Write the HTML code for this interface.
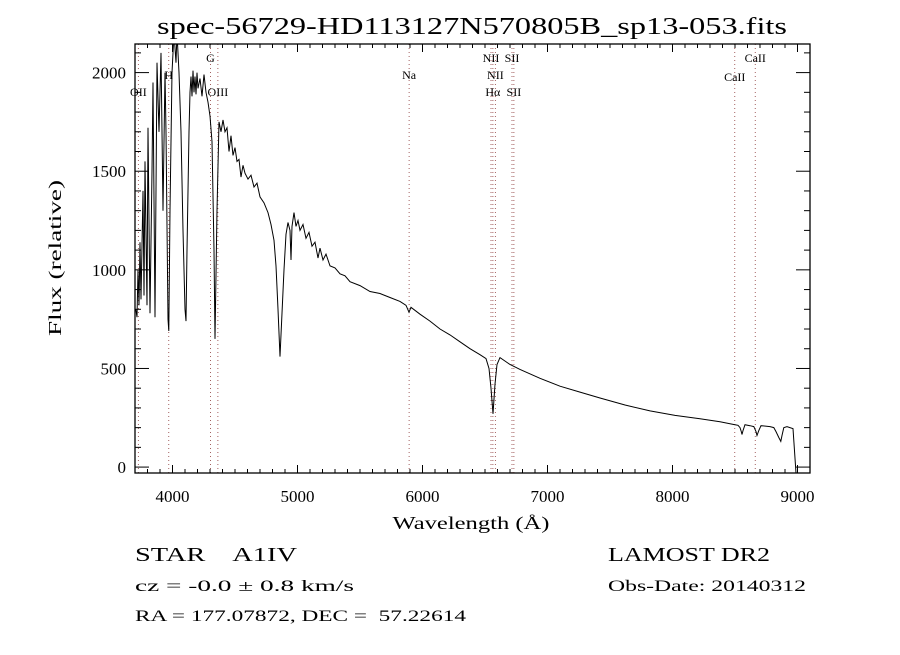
<!DOCTYPE html>
<html><head><meta charset="utf-8"><style>
html,body{margin:0;padding:0;background:#fff;}
svg text{font-family:"Liberation Serif",serif;fill:#000;white-space:pre;}
</style></head><body>
<svg id="chart" width="900" height="650" xmlns="http://www.w3.org/2000/svg" xml:space="preserve">
<defs><clipPath id="plotclip"><rect x="135" y="44" width="675" height="429"/></clipPath></defs>
<rect x="0" y="0" width="900" height="650" fill="#fff"/>
<text x="472" y="34" font-size="24" text-anchor="middle" textLength="630" lengthAdjust="spacingAndGlyphs">spec-56729-HD113127N570805B_sp13-053.fits</text>
<g id="lines"></g>
<g id="axes"></g>
<g clip-path="url(#plotclip)"><path id="spec" fill="none" stroke="#000" stroke-width="1"/></g>
<text x="471" y="529" font-size="18" text-anchor="middle" textLength="157" lengthAdjust="spacingAndGlyphs">Wavelength (Å)</text>
<text x="0" y="0" font-size="18" text-anchor="middle" transform="translate(61,258) rotate(-90)" textLength="156" lengthAdjust="spacingAndGlyphs">Flux (relative)</text>
<text x="135" y="561" font-size="20" textLength="162" lengthAdjust="spacingAndGlyphs">STAR    A1IV</text>
<text x="135" y="591" font-size="16" textLength="219" lengthAdjust="spacingAndGlyphs">cz = -0.0 ± 0.8 km/s</text>
<text x="135" y="621" font-size="16" textLength="331" lengthAdjust="spacingAndGlyphs">RA = 177.07872, DEC =  57.22614</text>
<text x="608" y="561" font-size="20" textLength="162" lengthAdjust="spacingAndGlyphs">LAMOST DR2</text>
<text x="608" y="591" font-size="16" textLength="198" lengthAdjust="spacingAndGlyphs">Obs-Date: 20140312</text>
</svg>
<script>
const wavelengths = [3706,3716,3724,3732,3740,3748,3764,3772,3780,3796,3804,3820,3836,3844,3860,3876,3892,3908,3924,3940,3948,3964,3970,3980,3996,4012,4028,4036,4052,4068,4084,4100,4108,4116,4132,4140,4148,4156,4164,4172,4180,4188,4196,4204,4220,4236,4252,4268,4284,4300,4316,4332,4340,4356,4372,4388,4404,4420,4436,4452,4468,4484,4500,4516,4532,4548,4564,4580,4604,4628,4652,4676,4700,4732,4764,4788,4812,4828,4844,4860,4876,4892,4908,4924,4940,4948,4956,4972,4988,5004,5020,5044,5068,5092,5116,5140,5164,5180,5204,5228,5260,5300,5340,5380,5420,5500,5580,5660,5740,5820,5868,5892,5908,5980,6060,6140,6220,6300,6380,6460,6508,6532,6548,6564,6580,6596,6620,6700,6780,6940,7100,7260,7420,7620,7820,8020,8220,8380,8500,8524,8540,8550,8556,8564,8580,8620,8650,8668,8676,8690,8708,8780,8810,8828,8850,8866,8876,8890,8916,8964,8988,9004,9010];
const fluxes = [800,760,1000,820,1140,850,1400,870,1550,820,1720,780,1500,1950,760,2050,1700,2100,1300,2000,1700,750,690,1300,2000,2200,2050,2200,2000,1700,1200,800,740,1100,1700,1900,1980,1880,2010,1900,1980,1890,2000,1920,1970,1880,1990,1900,1850,1780,1650,1100,650,1300,1750,1700,1760,1700,1720,1600,1680,1580,1620,1550,1560,1470,1530,1490,1460,1480,1420,1440,1370,1340,1290,1230,1150,1020,800,560,780,1000,1180,1240,1200,1050,1220,1290,1220,1250,1200,1230,1160,1190,1120,1140,1060,1110,1050,1080,1020,1010,980,970,940,920,890,880,860,840,820,785,810,775,740,700,670,635,600,570,550,500,400,270,420,520,555,520,495,450,410,380,350,315,285,262,245,230,215,212,200,180,165,185,215,210,205,180,160,185,210,205,200,180,150,130,160,200,205,195,-30,-30];
const xTicks = [4000,5000,6000,7000,8000,9000];
const yTicks = [0,500,1000,1500,2000];
const lineWaves = [3727,3970,4304,4363,5893,6548,6563,6583,6716,6731,8498,8662];
const lineLabels = [["OII",3727,92],["H",3970,75],["G",4304,58],["OIII",4363,92],["Na",5893,75],["NII",6548,58],["SII",6716,58],["NII",6583,75],["Hα",6563,92],["SII",6731,92],["CaII",8498,77],["CaII",8662,58]];

const X0=135,X1=810,Y0=44,Y1=473,WMIN=3700,WMAX=9100,FMIN=-30,FMAX=2145;
const sx=w=>X0+(w-WMIN)/(WMAX-WMIN)*(X1-X0);
const sy=f=>Y1-(f-FMIN)/(FMAX-FMIN)*(Y1-Y0);
const NS="http://www.w3.org/2000/svg";
function mk(tag,attrs,parent){const e=document.createElementNS(NS,tag);for(const k in attrs)e.setAttribute(k,attrs[k]);parent.appendChild(e);return e;}

const spec=document.getElementById('spec');
spec.setAttribute('d',wavelengths.map((w,i)=>(i?'L':'M')+sx(w).toFixed(1)+','+sy(fluxes[i]).toFixed(1)).join(''));

const lines=document.getElementById('lines');
lineWaves.forEach(w=>{
  const l=mk('line',{x1:sx(w),x2:sx(w),y1:Y0,y2:Y1,stroke:'#9a5050','stroke-width':0.9,'stroke-dasharray':'1,3'},lines);
  
  
});
lineLabels.forEach(([t,w,y])=>{
  const e=mk('text',{x:sx(w),y:y+4,'font-size':12,'text-anchor':'middle'},lines);
  
  
  e.textContent=t;
});

const ax=document.getElementById('axes');
mk('rect',{x:X0,y:Y0,width:X1-X0,height:Y1-Y0,fill:'none',stroke:'#000','stroke-width':1.3},ax);
for(let w=3700;w<=9100;w+=100){
  const major=w%1000===0, L=major?8:4, x=sx(w);
  mk('line',{x1:x,x2:x,y1:Y1,y2:Y1-L,stroke:'#000'},ax);
  mk('line',{x1:x,x2:x,y1:Y0,y2:Y0+L,stroke:'#000'},ax);
}
for(let f=0;f<=2100;f+=100){
  const major=f%500===0, L=major?14:6, y=sy(f);
  mk('line',{x1:X0,x2:X0+L,y1:y,y2:y,stroke:'#000'},ax);
  mk('line',{x1:X1,x2:X1-L,y1:y,y2:y,stroke:'#000'},ax);
}
xTicks.forEach(w=>{
  const e=mk('text',{x:sx(w),y:Y1+29,'font-size':17,'text-anchor':'middle'},ax);
  
  
  e.textContent=w;
});
yTicks.forEach(f=>{
  const e=mk('text',{x:X0-9,y:sy(f)+6,'font-size':17,'text-anchor':'end'},ax);
  
  
  e.textContent=f;
});
</script>
</body></html>
